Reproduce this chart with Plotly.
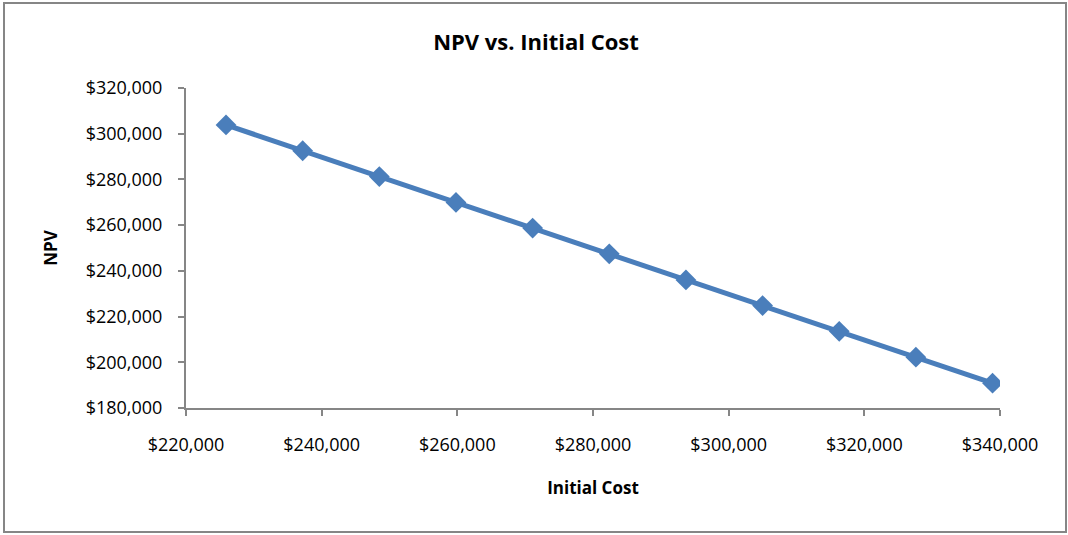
import plotly.graph_objects as go

# Sensitivity of NPV to the project's initial cost
initial_cost = [225900, 237200, 248500, 259800, 271100, 282400,
                293700, 305000, 316300, 327600, 338900]
npv = [303850, 292550, 281250, 269950, 258700, 247450,
       236050, 224800, 213550, 202250, 190850]

x_ticks = [220000, 240000, 260000, 280000, 300000, 320000, 340000]
y_ticks = [180000, 200000, 220000, 240000, 260000, 280000, 300000, 320000]


def money(v):
    return "${:,}".format(v)


W, H = 1068, 535
ML, MR, MT, MB = 186, 68, 88, 127
PW, PH = W - ML - MR, H - MT - MB

FONT = "Open Sans"
AXIS_GREY = "#868686"
BLUE = "#4A7EBB"

fig = go.Figure(
    go.Scatter(
        x=initial_cost,
        y=npv,
        mode="lines+markers",
        line=dict(color=BLUE, width=5),
        marker=dict(symbol="diamond", size=16, color=BLUE),
        showlegend=False,
        hoverinfo="x+y",
    )
)

axis_common = dict(
    showgrid=False,
    zeroline=False,
    showline=True,
    linecolor=AXIS_GREY,
    linewidth=2,
    ticks="outside",
    tickcolor=AXIS_GREY,
    ticklen=6,
    tickwidth=1.5,
    tickfont=dict(family=FONT, size=18, color="#000000"),
)

fig.update_xaxes(
    range=[220000, 340000],
    tickvals=x_ticks,
    ticktext=[money(v) for v in x_ticks],
    title=dict(text="<b>Initial Cost</b>", font=dict(family=FONT, size=17, color="#000"), standoff=28),
    ticklabelstandoff=13,
    **axis_common,
)
fig.update_yaxes(
    range=[180000, 320000],
    tickvals=y_ticks,
    ticktext=[money(v) for v in y_ticks],
    title=dict(text="<b>NPV</b>", font=dict(family=FONT, size=17, color="#000"), standoff=24),
    ticklabelstandoff=12,
    **axis_common,
)

# outer chart border
fig.add_shape(
    type="rect",
    xref="paper", yref="paper",
    x0=(4 - ML) / PW, x1=(1066 - ML) / PW,
    y0=(H - MB - 532) / PH, y1=(H - MB - 3) / PH,
    line=dict(color=AXIS_GREY, width=2),
    fillcolor="rgba(0,0,0,0)",
    layer="below",
)

fig.update_layout(
    width=W,
    height=H,
    margin=dict(l=ML, r=MR, t=MT, b=MB),
    paper_bgcolor="white",
    plot_bgcolor="white",
    title=dict(
        text="<b>NPV vs. Initial Cost</b>",
        xref="paper",
        x=(536 - ML) / PW,
        xanchor="center",
        y=1 - 42 / H, yanchor="middle",
        font=dict(family=FONT, size=22, color="#000"),
    ),
)

fig.write_html("out.html")
